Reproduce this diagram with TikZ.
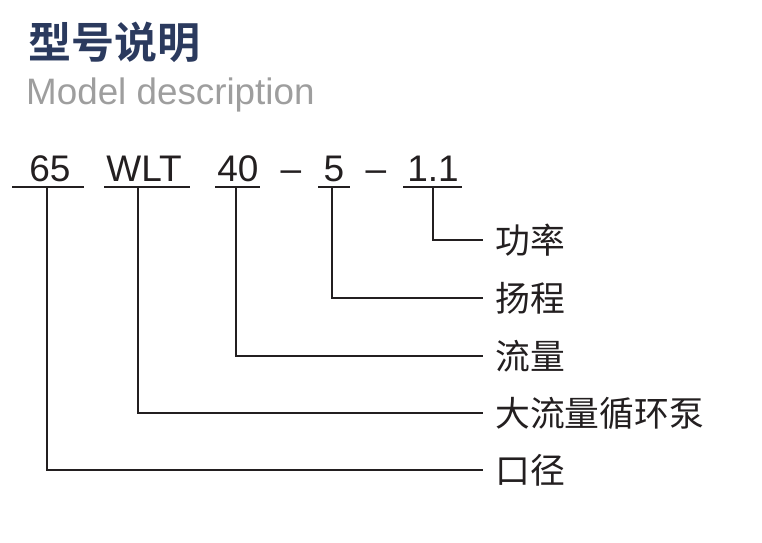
\documentclass[tikz,border=0pt]{standalone}
\usepackage{fontspec}
\setmainfont{Liberation Sans}
\newfontfamily\cjk{Noto Sans CJK SC}
\newfontfamily\cjkb{Noto Sans CJK SC Bold}
\definecolor{navy}{HTML}{2B3A5E}
\definecolor{ink}{HTML}{231F20}
\begin{document}
\begin{tikzpicture}[x=1pt,y=-1pt,
  code/.style={anchor=base,font=\fontsize{37}{37}\selectfont,text=ink,inner sep=0},
  lab/.style={anchor=west,font=\cjk\fontsize{34.8}{35}\selectfont,text=ink,inner sep=0},
  ln/.style={draw=ink,line width=1.2pt}]
\useasboundingbox (0,0) rectangle (762,542);
\node[anchor=west,inner sep=0,font=\cjkb\fontsize{43}{43}\selectfont,text=navy] (t) at (28,42) {型号说明};
\node[anchor=base west,inner sep=0,font=\fontsize{36.8}{37}\selectfont,text=black!38] (s) at (26,104) {Model description};
\node[code] (c1) at (50,181) {65};
\node[code] (c2) at (144,181) {WLT};
\node[code] (c3) at (238,181) {40};
\node[code] (d1) at (291,181) {–};
\node[code] (c4) at (334,181) {5};
\node[code] (d2) at (376,181) {–};
\node[code] (c5) at (433,181) {1.1};
\draw[ln] (12,187) -- (84,187);
\draw[ln] (104,187) -- (190,187);
\draw[ln] (215,187) -- (260,187);
\draw[ln] (318,187) -- (350,187);
\draw[ln] (403,187) -- (462,187);
\node[lab] (l1) at (495,240) {功率};
\node[lab] (l2) at (495,298) {扬程};
\node[lab] (l3) at (495,356) {流量};
\node[lab] (l4) at (495,413) {大流量循环泵};
\node[lab] (l5) at (495,470) {口径};
\draw[ln] (433,187) |- ([xshift=-12pt]l1.west);
\draw[ln] (332,187) |- ([xshift=-12pt]l2.west);
\draw[ln] (236,187) |- ([xshift=-12pt]l3.west);
\draw[ln] (138,187) |- ([xshift=-12pt]l4.west);
\draw[ln] (47,187) |- ([xshift=-12pt]l5.west);
\end{tikzpicture}
\end{document}
